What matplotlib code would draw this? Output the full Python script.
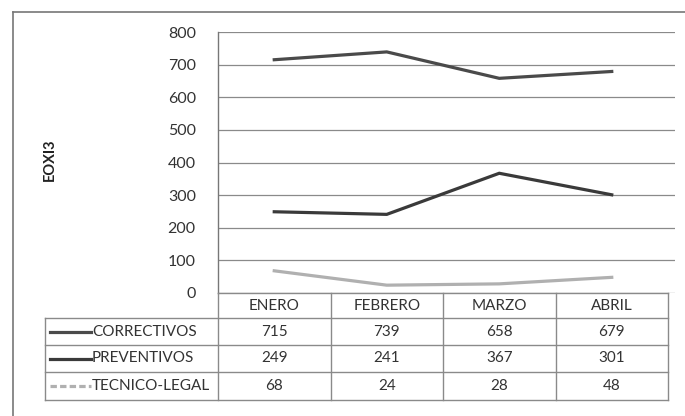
import matplotlib
matplotlib.use("Agg")
import matplotlib.pyplot as plt
from matplotlib.lines import Line2D
from matplotlib.transforms import blended_transform_factory

months = ["ENERO", "FEBRERO", "MARZO", "ABRIL"]
series_names = ["CORRECTIVOS", "PREVENTIVOS", "TECNICO-LEGAL"]
correctivos = [715, 739, 658, 679]
preventivos = [249, 241, 367, 301]
tecnico_legal = [68, 24, 28, 48]
y_ticks = [0, 100, 200, 300, 400, 500, 600, 700, 800]

series_values = [correctivos, preventivos, tecnico_legal]
series_colors = ["#4a4a4a", "#3a3a3a", "#b0b0b0"]

plt.rcParams["font.family"] = ["Lato", "DejaVu Sans"]

W, H = 685, 416
fig = plt.figure(figsize=(W / 100, H / 100), dpi=100)


def fx(x):
    return x / W


def fy(y):
    return 1 - y / H


n = len(months)
col_w = (668 - 218) / n
ax = fig.add_axes([fx(218), fy(293), fx(675) - fx(218), fy(32) - fy(293)])
x = list(range(n))
for vals, col in zip(series_values, series_colors):
    ax.plot(x, vals, color=col, lw=2.3, solid_joinstyle="miter")

ax.set_xlim(-0.5, n - 0.5 + (675 - 668) / col_w)
ax.set_ylim(0, 800)
ax.set_yticks(y_ticks)
ax.set_yticklabels([str(v) for v in y_ticks], fontsize=11.5, color="#333333")
ax.tick_params(axis="y", length=0, pad=16)
ax.set_xticks([])
ax.grid(axis="y", color="#8a8a8a", lw=0.9)
ax.set_axisbelow(True)
for s in ["top", "right", "bottom"]:
    ax.spines[s].set_visible(False)
ax.spines["left"].set_color("#777777")
ax.spines["left"].set_linewidth(1.0)

fig.text(fx(50), fy(160), "EOXI3", rotation=90, ha="center", va="center",
         fontsize=10.5, fontweight="bold", color="#222222")

# Data table under the plot
tr = blended_transform_factory(ax.transData, fig.transFigure)
row_edges = [293, 318, 345, 372, 400]
grid_col = "#8a8a8a"
legend_left = fx(45)

# horizontal lines
for i, yy in enumerate(row_edges):
    if i == 0:
        fig.add_artist(Line2D([-0.5, n - 0.5], [fy(yy)] * 2, transform=tr,
                              color=grid_col, lw=1.0))
    else:
        fig.add_artist(Line2D([legend_left, fx(668)], [fy(yy)] * 2,
                              transform=fig.transFigure, color=grid_col, lw=1.0))
# vertical lines
for k in range(n + 1):
    fig.add_artist(Line2D([k - 0.5] * 2, [fy(293), fy(400)], transform=tr,
                          color=grid_col, lw=1.0))
fig.add_artist(Line2D([legend_left] * 2, [fy(318), fy(400)],
                      transform=fig.transFigure, color=grid_col, lw=1.0))

# header
for k, m in enumerate(months):
    fig.text(k, fy((row_edges[0] + row_edges[1]) / 2 + 1), m, transform=tr,
             ha="center", va="center", fontsize=11, color="#333333")

# rows
for r, (name, vals, col) in enumerate(zip(series_names, series_values,
                                          series_colors)):
    yc = fy((row_edges[r + 1] + row_edges[r + 2]) / 2)
    fig.add_artist(Line2D([fx(50), fx(91)], [yc, yc], transform=fig.transFigure,
                          color=col, lw=2.3,
                          ls="-" if r < 2 else (0, (2, 1))))
    fig.text(fx(92), yc, name, ha="left", va="center", fontsize=11,
             color="#333333")
    for k, v in enumerate(vals):
        fig.text(k, yc, str(v), transform=tr, ha="center", va="center",
                 fontsize=11, color="#333333")

# outer chart frame
fig.add_artist(Line2D([fx(13), fx(685)], [fy(12), fy(12)],
                      transform=fig.transFigure, color="#777777", lw=1.2))
fig.add_artist(Line2D([fx(13), fx(13)], [fy(12), fy(416)],
                      transform=fig.transFigure, color="#777777", lw=1.2))

fig.savefig("out.png", dpi=100)
